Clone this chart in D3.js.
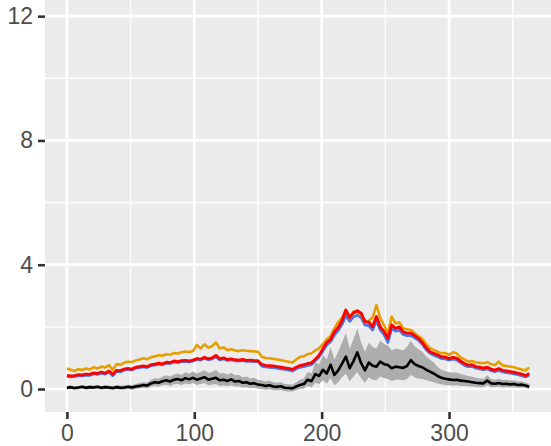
<!DOCTYPE html>
<html><head><meta charset="utf-8">
<script src="https://cdn.jsdelivr.net/npm/d3@7"></script>
<style>html,body{margin:0;padding:0;background:#fff;}svg{display:block;}</style>
</head><body>
<script>
// x positions: day of year, every 3 days
const days = d3.range(0, 364, 3);
const orangeVals = [0.66,0.62,0.58,0.64,0.61,0.66,0.63,0.70,0.66,0.72,0.69,0.77,0.62,0.80,0.78,0.85,0.88,0.86,0.92,0.95,
0.99,0.96,1.02,1.05,1.09,1.07,1.12,1.10,1.16,1.14,1.18,1.21,1.19,1.22,1.42,1.30,1.44,1.33,1.38,1.50,
1.30,1.34,1.25,1.28,1.24,1.22,1.25,1.23,1.22,1.21,1.20,1.04,1.00,0.99,0.97,0.95,0.93,0.90,0.88,0.85,
0.95,1.04,1.05,1.12,1.15,1.24,1.31,1.45,1.60,1.70,1.95,2.15,2.30,2.54,2.30,2.50,2.45,2.40,2.15,2.20,
2.30,2.70,2.28,2.05,1.79,2.33,2.11,2.15,1.95,1.92,1.90,1.80,1.70,1.62,1.45,1.31,1.26,1.20,1.15,1.16,
1.10,1.18,1.15,1.02,0.95,0.88,0.90,0.86,0.84,0.83,0.86,0.80,0.77,0.88,0.76,0.74,0.72,0.70,0.66,0.63,
0.60,0.69];
const blueVals = [0.41,0.39,0.40,0.43,0.42,0.45,0.44,0.49,0.47,0.51,0.48,0.55,0.43,0.57,0.55,0.61,0.63,0.61,0.67,0.69,
0.71,0.69,0.75,0.77,0.80,0.78,0.83,0.82,0.87,0.85,0.88,0.89,0.87,0.90,0.95,0.93,0.99,0.94,0.97,1.04,
0.94,0.97,0.92,0.94,0.91,0.90,0.92,0.89,0.90,0.88,0.88,0.74,0.71,0.70,0.69,0.67,0.65,0.63,0.61,0.58,
0.65,0.70,0.72,0.76,0.78,0.91,1.03,1.22,1.42,1.52,1.74,1.88,2.08,2.36,2.18,2.32,2.38,2.30,2.06,2.04,
1.90,2.20,1.90,1.75,1.50,1.95,1.86,1.90,1.76,1.72,1.72,1.65,1.57,1.44,1.27,1.15,1.09,1.04,0.98,0.97,
0.93,0.96,0.94,0.85,0.77,0.72,0.73,0.67,0.65,0.62,0.65,0.59,0.56,0.60,0.55,0.53,0.51,0.49,0.46,0.43,
0.39,0.45];
const redVals = [0.44,0.42,0.43,0.46,0.45,0.48,0.47,0.52,0.50,0.54,0.51,0.58,0.47,0.60,0.59,0.64,0.66,0.64,0.70,0.72,
0.74,0.72,0.78,0.80,0.83,0.81,0.86,0.85,0.90,0.88,0.91,0.92,0.90,0.93,0.98,0.96,1.02,0.97,1.00,1.08,
0.97,1.00,0.95,0.97,0.94,0.93,0.95,0.92,0.93,0.91,0.91,0.79,0.76,0.75,0.74,0.72,0.70,0.68,0.66,0.63,
0.70,0.75,0.78,0.82,0.84,0.96,1.09,1.30,1.50,1.60,1.84,1.98,2.20,2.54,2.30,2.45,2.52,2.44,2.17,2.15,
2.00,2.33,2.00,1.85,1.63,2.06,1.95,2.00,1.84,1.80,1.80,1.72,1.63,1.50,1.33,1.20,1.15,1.10,1.04,1.03,
0.98,1.02,0.99,0.90,0.82,0.77,0.78,0.72,0.70,0.67,0.70,0.64,0.61,0.66,0.60,0.58,0.56,0.54,0.51,0.48,
0.43,0.50];
const blackVals = [0.04,0.06,0.03,0.05,0.07,0.04,0.06,0.05,0.07,0.04,0.06,0.05,0.03,0.06,0.04,0.05,0.07,0.05,0.08,0.10,
0.13,0.11,0.18,0.22,0.20,0.25,0.28,0.24,0.30,0.32,0.28,0.35,0.31,0.36,0.30,0.34,0.38,0.30,0.33,0.36,
0.28,0.30,0.26,0.31,0.24,0.26,0.20,0.22,0.17,0.19,0.14,0.13,0.10,0.12,0.08,0.07,0.09,0.04,0.03,0.02,
0.08,0.13,0.16,0.30,0.25,0.48,0.42,0.62,0.50,0.78,0.45,0.60,0.82,1.04,0.67,0.90,1.18,0.83,0.60,0.85,
0.75,0.72,0.88,0.80,0.77,0.67,0.72,0.70,0.68,0.74,0.93,0.80,0.74,0.70,0.62,0.56,0.50,0.42,0.36,0.33,
0.31,0.29,0.30,0.27,0.26,0.24,0.22,0.20,0.19,0.18,0.27,0.18,0.17,0.19,0.16,0.17,0.15,0.16,0.13,0.14,
0.11,0.07];
const bandLow = [-0.02,0.00,-0.03,-0.01,0.01,-0.02,0.00,-0.01,0.01,-0.02,0.00,-0.01,-0.03,0.00,-0.02,-0.02,0.00,-0.02,0.00,0.02,
0.04,0.02,0.07,0.10,0.08,0.12,0.14,0.10,0.15,0.16,0.13,0.18,0.15,0.19,0.13,0.16,0.19,0.12,0.14,0.16,
0.10,0.12,0.09,0.12,0.08,0.09,0.05,0.06,0.03,0.04,0.01,0.00,-0.02,-0.01,-0.04,-0.04,-0.03,-0.07,-0.08,-0.08,
-0.04,0.00,0.02,0.10,0.06,0.20,0.15,0.28,0.18,0.35,0.12,0.22,0.38,0.50,0.25,0.40,0.55,0.35,0.20,0.38,
0.30,0.28,0.40,0.35,0.32,0.26,0.30,0.30,0.28,0.32,0.45,0.38,0.34,0.32,0.28,0.25,0.22,0.18,0.15,0.13,
0.12,0.11,0.12,0.10,0.10,0.09,0.08,0.07,0.06,0.06,0.12,0.06,0.06,0.07,0.05,0.06,0.05,0.06,0.04,0.05,
0.03,0.00];
const bandHigh = [0.09,0.11,0.08,0.10,0.12,0.10,0.12,0.11,0.13,0.10,0.12,0.11,0.09,0.13,0.11,0.12,0.14,0.13,0.16,0.19,
0.22,0.21,0.30,0.35,0.33,0.40,0.44,0.40,0.47,0.50,0.45,0.54,0.49,0.56,0.50,0.55,0.60,0.52,0.55,0.62,
0.50,0.52,0.46,0.52,0.44,0.46,0.38,0.40,0.34,0.36,0.30,0.28,0.24,0.27,0.22,0.20,0.22,0.16,0.15,0.14,
0.22,0.30,0.34,0.55,0.50,0.85,0.80,1.10,0.95,1.35,0.95,1.20,1.50,1.80,1.30,1.60,1.95,1.50,1.20,1.50,
1.35,1.30,1.55,1.45,1.40,1.25,1.30,1.28,1.25,1.35,1.55,1.38,1.28,1.20,1.05,0.95,0.85,0.72,0.62,0.58,
0.54,0.52,0.53,0.48,0.46,0.42,0.40,0.36,0.34,0.32,0.44,0.32,0.30,0.33,0.29,0.30,0.27,0.28,0.24,0.25,
0.21,0.16];
const xTicks = [0, 100, 200, 300];
const yTicks = [0, 4, 8, 12];

const W = 551, H = 446;
const panel = {left: 45, top: 0, right: 555, bottom: 412};
const x = d3.scaleLinear().domain([-17.2, 383.2]).range([panel.left, panel.right]);
const y = d3.scaleLinear().domain([-0.74, 12.52]).range([panel.bottom, panel.top]);

const svg = d3.select("body").append("svg").attr("width", W).attr("height", H);
svg.append("defs").append("clipPath").attr("id", "clip")
  .append("rect").attr("x", panel.left).attr("y", panel.top)
  .attr("width", panel.right - panel.left).attr("height", panel.bottom - panel.top);

svg.append("rect").attr("x", panel.left).attr("y", panel.top)
  .attr("width", panel.right - panel.left).attr("height", panel.bottom - panel.top)
  .attr("fill", "#EBEBEB");

const g = svg.append("g").attr("clip-path", "url(#clip)");
const xMinor = [-50, 50, 150, 250, 350];
const yMinor = [2, 6, 10];
g.selectAll(".xminor").data(xMinor).enter().append("line")
  .attr("x1", d => x(d)).attr("x2", d => x(d)).attr("y1", panel.top).attr("y2", panel.bottom)
  .attr("stroke", "#fff").attr("stroke-width", 1.4);
g.selectAll(".yminor").data(yMinor).enter().append("line")
  .attr("y1", d => y(d)).attr("y2", d => y(d)).attr("x1", panel.left).attr("x2", panel.right)
  .attr("stroke", "#fff").attr("stroke-width", 1.4);
g.selectAll(".xmajor").data(xTicks).enter().append("line")
  .attr("x1", d => x(d)).attr("x2", d => x(d)).attr("y1", panel.top).attr("y2", panel.bottom)
  .attr("stroke", "#fff").attr("stroke-width", 2.7);
g.selectAll(".ymajor").data(yTicks).enter().append("line")
  .attr("y1", d => y(d)).attr("y2", d => y(d)).attr("x1", panel.left).attr("x2", panel.right)
  .attr("stroke", "#fff").attr("stroke-width", 2.7);

const idx = d3.range(days.length);
const area = d3.area().x(i => x(days[i])).y0(i => y(bandLow[i])).y1(i => y(bandHigh[i]));
g.append("path").attr("d", area(idx)).attr("fill", "#A6A6A6").attr("fill-opacity", 0.9);

function drawLine(vals, color, w) {
  const line = d3.line().x(i => x(days[i])).y(i => y(vals[i]));
  g.append("path").attr("d", line(idx)).attr("fill", "none")
    .attr("stroke", color).attr("stroke-width", w).attr("stroke-linejoin", "round");
}
drawLine(blackVals, "#000000", 2.6);
drawLine(blueVals, "#4A78E8", 2.8);
drawLine(orangeVals, "#E69F00", 2.6);
drawLine(redVals, "#FF0000", 2.9);

// axes
const font = "'Liberation Sans', Arial, Helvetica, sans-serif";
const xAxis = svg.append("g").attr("transform", `translate(0,${panel.bottom})`)
  .call(d3.axisBottom(x).tickValues(xTicks).tickSize(7).tickPadding(6).tickFormat(d3.format("d")));
xAxis.select(".domain").remove();
xAxis.selectAll(".tick line").attr("stroke", "#333333").attr("stroke-width", 2.6);
xAxis.selectAll(".tick text").attr("fill", "#4D4D4D").style("font-family", font).style("font-size", "23px");

const yAxis = svg.append("g").attr("transform", `translate(${panel.left},0)`)
  .call(d3.axisLeft(y).tickValues(yTicks).tickSize(7).tickPadding(5).tickFormat(d3.format("d")));
yAxis.select(".domain").remove();
yAxis.selectAll(".tick line").attr("stroke", "#333333").attr("stroke-width", 2.6);
yAxis.selectAll(".tick text").attr("fill", "#4D4D4D").style("font-family", font).style("font-size", "23px");
</script>
</body></html>
